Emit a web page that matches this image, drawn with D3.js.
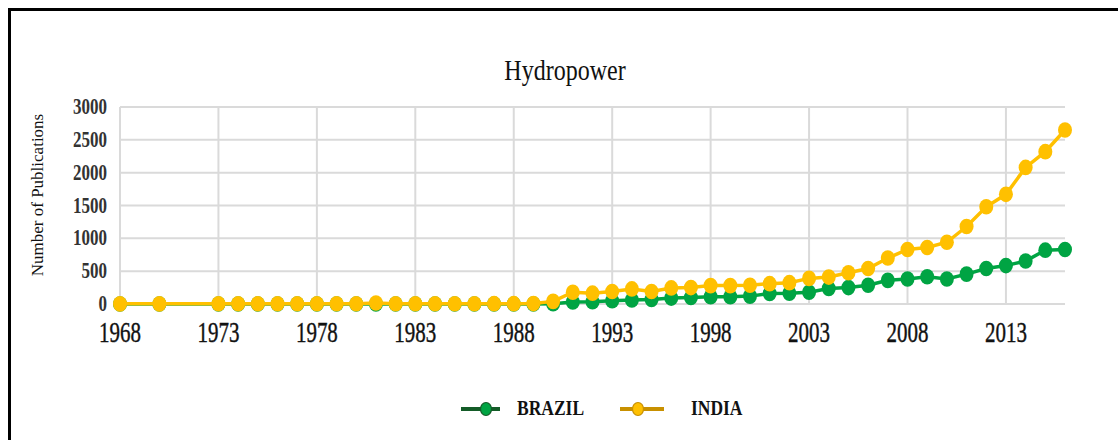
<!DOCTYPE html>
<html lang="en">
  <head>
    <meta charset="UTF-8" />
    <title>Hydropower</title>
    <script src="https://d3js.org/d3.v7.min.js"></script>
    <style>
      body { margin: 0; background: #fff; }
      text { font-family: "Liberation Serif", "Times New Roman", serif; }
    </style>
  </head>
  <body>
    <svg width="1118" height="440"></svg>

    <script>
      // data
      const years = [1968, 1970, 1973, 1974, 1975, 1976, 1977, 1978, 1979, 1980,
        1981, 1982, 1983, 1984, 1985, 1986, 1987, 1988, 1989, 1990,
        1991, 1992, 1993, 1994, 1995, 1996, 1997, 1998, 1999, 2000,
        2001, 2002, 2003, 2004, 2005, 2006, 2007, 2008, 2009, 2010,
        2011, 2012, 2013, 2014, 2015, 2016];
      const brazil = [0, 0, 0, 0, 0, 0, 0, 0, 0, 0,
        0, 0, 0, 0, 0, 0, 0, 0, 0, 5,
        30, 35, 50, 60, 70, 90, 100, 110, 110, 120,
        160, 165, 180, 235, 250, 285, 360, 380, 415, 380,
        455, 540, 585, 655, 820, 830];
      const india = [2, 2, 3, 3, 3, 3, 3, 3, 3, 4,
        15, 4, 4, 4, 4, 4, 5, 5, 6, 40,
        180, 165, 190, 230, 190, 245, 250, 280, 280, 285,
        310, 325, 390, 410, 475, 540, 700, 830, 860, 940,
        1180, 1480, 1670, 2080, 2320, 2650];
      const xTicks = [1968, 1973, 1978, 1983, 1988, 1993, 1998, 2003, 2008, 2013];
      const yTicks = [0, 500, 1000, 1500, 2000, 2500, 3000];
      const seriesNames = ["BRAZIL", "INDIA"];
      const colors = ["#00a443", "#ffc000"];

      const svg = d3.select("svg");

      // outer frame (only top and left show in the crop)
      svg.append("path")
        .attr("d", "M9.5,445 V9.5 H1125")
        .attr("fill", "none")
        .attr("stroke", "#000")
        .attr("stroke-width", 3);

      const x = d3.scaleLinear().domain([1968, 2016]).range([120, 1065]);
      const y = d3.scaleLinear().domain([0, 3000]).range([304, 107]);

      // grid
      svg.append("g")
        .selectAll("line")
        .data(yTicks)
        .join("line")
        .attr("x1", x(1968))
        .attr("x2", x(2016))
        .attr("y1", d => y(d))
        .attr("y2", d => y(d))
        .attr("stroke", "#dadada")
        .attr("stroke-width", 2);

      svg.append("g")
        .selectAll("line")
        .data(xTicks)
        .join("line")
        .attr("x1", d => x(d))
        .attr("x2", d => x(d))
        .attr("y1", y(3000))
        .attr("y2", y(0))
        .attr("stroke", "#dadada")
        .attr("stroke-width", 2);

      // y tick labels
      svg.append("g")
        .selectAll("text")
        .data(yTicks)
        .join("text")
        .attr("transform", d => `translate(107, ${y(d) + 7}) scale(1, 1.3)`)
        .attr("text-anchor", "end")
        .attr("font-size", 17)
        .attr("font-weight", "bold")
        .attr("fill", "#333")
        .text(d => d);

      // x tick labels
      svg.append("g")
        .selectAll("text")
        .data(xTicks)
        .join("text")
        .attr("transform", d => `translate(${x(d)}, 342) scale(1, 1.4)`)
        .attr("text-anchor", "middle")
        .attr("font-size", 21)
        .attr("fill", "#111")
        .attr("stroke", "#111")
        .attr("stroke-width", 0.3)
        .text(d => d);

      // title
      svg.append("text")
        .attr("transform", "translate(565, 80) scale(1, 1.25)")
        .attr("text-anchor", "middle")
        .attr("font-size", 24)
        .attr("fill", "#111")
        .text("Hydropower");

      // y axis title
      svg.append("text")
        .attr("transform", "translate(43, 195) rotate(-90)")
        .attr("text-anchor", "middle")
        .attr("font-size", 17)
        .attr("fill", "#111")
        .text("Number of Publications");

      // series
      const line = d3.line().x((d, i) => x(years[i])).y(d => y(d));
      [brazil, india].forEach((vals, k) => {
        const g = svg.append("g");
        g.append("path")
          .datum(vals)
          .attr("d", line)
          .attr("fill", "none")
          .attr("stroke", colors[k])
          .attr("stroke-width", 3.5);
        g.selectAll("ellipse")
          .data(vals)
          .join("ellipse")
          .attr("cx", (d, i) => x(years[i]))
          .attr("cy", d => y(d))
          .attr("rx", 7)
          .attr("ry", 7.8)
          .attr("fill", colors[k]);
      });

      // legend
      const legend = [
        { x1: 461, x2: 500, cx: 486, tx: 517 },
        { x1: 620, x2: 664, cx: 638, tx: 691 }
      ];
      const legendStroke = ["#145c28", "#c89000"];
      legend.forEach((l, k) => {
        const g = svg.append("g");
        g.append("line")
          .attr("x1", l.x1).attr("x2", l.x2)
          .attr("y1", 409).attr("y2", 409)
          .attr("stroke", legendStroke[k])
          .attr("stroke-width", 4);
        g.append("ellipse")
          .attr("cx", l.cx).attr("cy", 409)
          .attr("rx", 5.5).attr("ry", 6.5)
          .attr("fill", colors[k])
          .attr("stroke", legendStroke[k])
          .attr("stroke-width", 1.2);
        g.append("text")
          .attr("transform", `translate(${l.tx}, 415) scale(1, 1.2)`)
          .attr("font-size", 17.5)
          .attr("font-weight", "bold")
          .attr("fill", "#111")
          .text(seriesNames[k]);
      });
    </script>
  </body>
</html>
